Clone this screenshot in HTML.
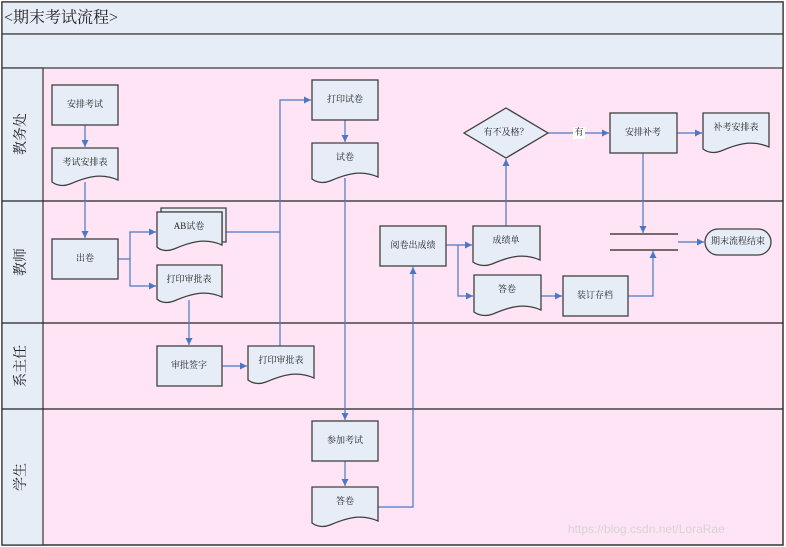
<!DOCTYPE html>
<html><head><meta charset="utf-8"><style>
html,body{margin:0;padding:0;background:#fff;}
svg{display:block;font-family:"Liberation Serif","Noto Serif CJK SC","Noto Sans CJK SC",serif;}
.b{fill:#e6edf7;stroke:#404040;stroke-width:1.3}
.t{font-size:9px;fill:#222;text-anchor:middle;dominant-baseline:middle}
.c{fill:none;stroke:#4a78c4;stroke-width:1.2}
.l{font-size:14px;fill:#222;text-anchor:middle;dominant-baseline:middle}
</style></head><body>
<svg width="786" height="547" viewBox="0 0 786 547" xmlns="http://www.w3.org/2000/svg">
<defs><marker id="a" markerWidth="8" markerHeight="8" refX="7" refY="4" orient="auto" markerUnits="userSpaceOnUse"><path d="M0,0.5 L7,4 L0,7.5Z" fill="#4a78c4"/></marker></defs>
<rect x="0" y="0" width="786" height="547" fill="#fff"/>
<rect x="2" y="2" width="781" height="543" fill="#ffe4f5" stroke="#333" stroke-width="1.5"/>
<rect x="2" y="2" width="781" height="32" fill="#e6edf7" stroke="#333" stroke-width="1.2"/>
<rect x="2" y="34" width="781" height="34" fill="#e6edf7" stroke="#333" stroke-width="1.2"/>
<rect x="2" y="68" width="41" height="477" fill="#e6edf7" stroke="#333" stroke-width="1.2"/>
<g stroke="#222" stroke-width="1.2"><line x1="2" y1="201" x2="783" y2="201"/><line x1="2" y1="323" x2="783" y2="323"/><line x1="2" y1="409" x2="783" y2="409"/></g>
<text x="4" y="19" style="font-size:16px;fill:#222;dominant-baseline:middle">&lt;期末考试流程&gt;</text>
<text class="l" transform="translate(22,134) rotate(-90)">教务处</text>
<text class="l" transform="translate(22,262) rotate(-90)">教师</text>
<text class="l" transform="translate(22,366) rotate(-90)">系主任</text>
<text class="l" transform="translate(22,477) rotate(-90)">学生</text>

<g class="c">
<path d="M85,125V147" marker-end="url(#a)"/>
<path d="M85,182V238" marker-end="url(#a)"/>
<path d="M118,259H130V232H156" marker-end="url(#a)"/>
<path d="M130,259V286H156" marker-end="url(#a)"/>
<path d="M222,232H280V100H311" marker-end="url(#a)"/>
<path d="M280,346V232"/>
<path d="M189,300V345" marker-end="url(#a)"/>
<path d="M222,366H247" marker-end="url(#a)"/>
<path d="M345,120V142" marker-end="url(#a)"/>
<path d="M345,178V420" marker-end="url(#a)"/>
<path d="M345,461V486" marker-end="url(#a)"/>
<path d="M378,507H413V267" marker-end="url(#a)"/>
<path d="M446,245H472" marker-end="url(#a)"/>
<path d="M458,245V296H473" marker-end="url(#a)"/>
<path d="M541,296H562" marker-end="url(#a)"/>
<path d="M506,226V159" marker-end="url(#a)"/>
<path d="M548,133H609" marker-end="url(#a)"/>
<path d="M677,133H702" marker-end="url(#a)"/>
<path d="M643,153V233" marker-end="url(#a)"/>
<path d="M628,296H653V251" marker-end="url(#a)"/>
<path d="M678,242H704" marker-end="url(#a)"/>
</g>
<rect x="573" y="127" width="12" height="12" fill="#fff"/>
<text class="t" x="579" y="133">有</text>

<rect class="b" x="52" y="85" width="66" height="40"/><text class="t" x="85" y="105">安排考试</text>
<path class="b" d="M52,148H118V180C100,172 84,178 70,184C62,187 56,185 52,182Z"/><text class="t" x="85" y="163">考试安排表</text>
<rect class="b" x="52" y="239" width="66" height="40"/><text class="t" x="85" y="259">出卷</text>
<path class="b" d="M161,208H226V242L222,242V212H161Z"/>
<path class="b" d="M157,212H222V245C204,237 188,243 174,249C166,252 160,250 157,247Z"/><text class="t" x="189" y="227">AB试卷</text>
<path class="b" d="M157,265H222V297C204,289 188,295 174,301C166,304 160,302 157,299Z"/><text class="t" x="189" y="280">打印审批表</text>
<rect class="b" x="157" y="346" width="65" height="40"/><text class="t" x="189" y="366">审批签字</text>
<path class="b" d="M248,346H314V378C296,370 280,376 266,382C258,385 252,383 248,380Z"/><text class="t" x="281" y="361">打印审批表</text>
<rect class="b" x="312" y="80" width="66" height="40"/><text class="t" x="345" y="100">打印试卷</text>
<path class="b" d="M312,143H378V177C360,169 344,175 330,181C322,184 316,182 312,179Z"/><text class="t" x="345" y="158">试卷</text>
<rect class="b" x="312" y="421" width="66" height="40"/><text class="t" x="345" y="441">参加考试</text>
<path class="b" d="M312,487H378V521C360,513 344,519 330,525C322,528 316,526 312,523Z"/><text class="t" x="345" y="502">答卷</text>
<rect class="b" x="380" y="226" width="66" height="40"/><text class="t" x="413" y="246">阅卷出成绩</text>
<path class="b" d="M473,226H540V260C522,252 506,258 492,264C484,267 477,265 473,262Z"/><text class="t" x="506" y="241">成绩单</text>
<path class="b" d="M474,275H541V310C523,302 507,308 493,314C485,317 478,315 474,312Z"/><text class="t" x="507" y="290">答卷</text>
<rect class="b" x="563" y="276" width="65" height="40"/><text class="t" x="595" y="296">装订存档</text>
<path class="b" d="M506,108L548,133L506,158L464,133Z"/><text class="t" x="506" y="133">有不及格？</text>
<rect class="b" x="610" y="113" width="67" height="40"/><text class="t" x="643" y="133">安排补考</text>
<path class="b" d="M703,113H769V147C751,139 735,145 721,151C713,154 707,152 703,149Z"/><text class="t" x="736" y="128">补考安排表</text>
<g stroke="#222" stroke-width="1.3"><line x1="610" y1="234" x2="678" y2="234"/><line x1="610" y1="250" x2="678" y2="250"/></g>
<rect class="b" x="705" y="229" width="66" height="26" rx="13"/><text class="t" x="738" y="242">期末流程结束</text>
<text x="568" y="533" style="font-family:'Liberation Sans',sans-serif;font-size:12px;fill:#d4d4d4">https://blog.csdn.net/LoraRae</text>
</svg>
</body></html>
